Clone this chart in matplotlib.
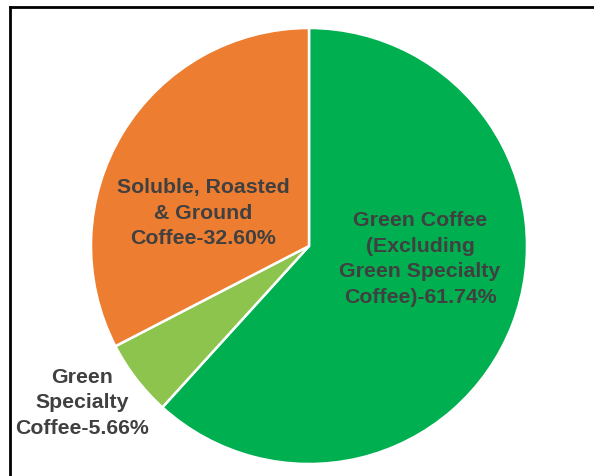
import matplotlib
matplotlib.use("Agg")
import matplotlib.pyplot as plt
from matplotlib.lines import Line2D

plt.rcParams["font.family"] = ["Liberation Sans", "DejaVu Sans"]

# 各品类占比
labels = ["Green Coffee\n(Excluding\nGreen Specialty\nCoffee)-61.74%",
          "Green\nSpecialty\nCoffee-5.66%",
          "Soluble, Roasted\n& Ground\nCoffee-32.60%"]
shares = [61.74, 5.66, 32.60]
colors = ["#00B050", "#8DC44E", "#ED7D31"]

W, H = 594, 476
cx, cy, r = 309, 246, 218  # 圆心与半径（像素）

fig = plt.figure(figsize=(W / 100, H / 100), dpi=100)
ax = fig.add_axes([0, 0, 1, 1])
ax.pie(shares, colors=colors, startangle=90, counterclock=False,
       wedgeprops={"edgecolor": "white", "linewidth": 1.8})
ax.set_aspect("auto")
ax.set_xlim(-cx / r, (W - cx) / r)
ax.set_ylim((cy - H) / r, cy / r)
ax.axis("off")

# 标签位置（数据坐标）
label_pos = [(0.509, -0.06), (-1.041, -0.72), (-0.486, 0.151)]
for txt, (x, y) in zip(labels, label_pos):
    ax.text(x, y, txt, ha="center", va="center", fontsize=15.3,
            fontweight="bold", color="#404040", linespacing=1.45)

# 外边框（只有上边和左边在画面内）
top = (H - 6.5) / H
left = 10 / W
fig.lines.append(Line2D([left, 1.05], [top, top], transform=fig.transFigure,
                        color="black", linewidth=2, solid_capstyle="projecting"))
fig.lines.append(Line2D([left, left], [-0.05, top], transform=fig.transFigure,
                        color="black", linewidth=2, solid_capstyle="projecting"))

plt.savefig("out.png", dpi=100)
plt.close("all")
